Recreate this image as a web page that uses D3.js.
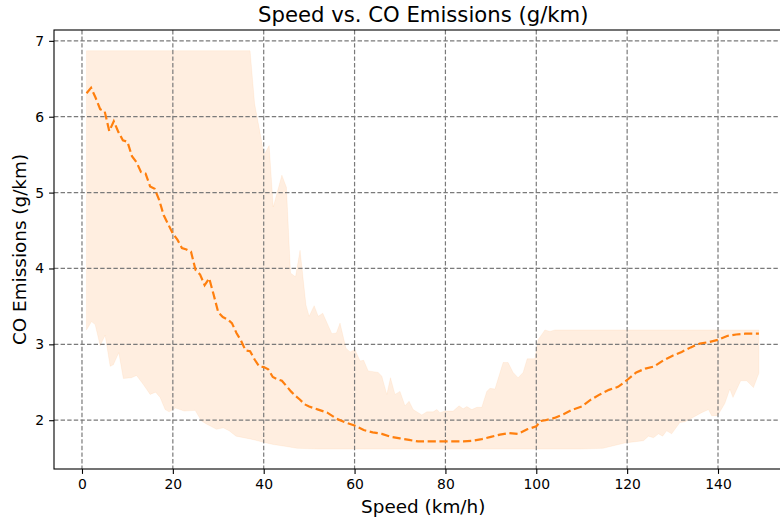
<!DOCTYPE html>
<html>
<head>
<meta charset="utf-8">
<script src="https://cdn.jsdelivr.net/npm/d3@7"></script>
<style>
  body { margin: 0; background: white; }
  svg { font-family: "DejaVu Sans", sans-serif; }
</style>
</head>
<body>
<div id="chart"></div>
<script>
var W = 780, H = 520
var MARGIN = {TOP: 30, LEFT: 54, BOTTOM: 51}

// mean CO emissions by speed
var mean_speed = [1,2,3,4,5,6,7,8,9,10,11,12,13,14,15,16,17,18,19,20,21,22,23,24,25,26,27,28,29,30,
  31,32,33,34,35,36,37,38,39,40,41,42,43,44,45,46,47,48,49,50,52,54,56,58,60,62,64,66,68,70,
  72,74,76,78,80,82,84,86,88,90,92,94,96,98,100,101,102,104,106,108,110,112,114,116,118,120,
  122,124,126,128,130,132,134,136,138,140,142,144,146,148,149]
var mean_co = [6.31,6.38,6.25,6.10,6.07,5.81,5.94,5.80,5.69,5.67,5.48,5.40,5.27,5.25,5.08,5.05,4.90,4.70,4.58,4.46,
  4.38,4.27,4.25,4.22,3.98,3.92,3.78,3.87,3.65,3.42,3.36,3.33,3.28,3.15,3.05,2.92,2.91,2.80,2.71,2.70,
  2.67,2.57,2.54,2.52,2.45,2.38,2.32,2.27,2.21,2.18,2.14,2.10,2.02,1.97,1.93,1.87,1.84,1.82,1.78,1.76,
  1.74,1.72,1.72,1.72,1.72,1.72,1.72,1.73,1.75,1.78,1.81,1.83,1.82,1.88,1.92,1.99,2.00,2.03,2.08,2.14,
  2.18,2.27,2.34,2.40,2.44,2.53,2.63,2.68,2.71,2.79,2.85,2.90,2.96,3.01,3.03,3.06,3.11,3.13,3.14,3.14,3.14]

// upper edge of the shaded range
var upper_speed = [1,37,38,39.5,40,41.2,42.1,44,45,45.9,47,48,49.3,50,51.1,52,53,55,56,56.8,
  58.1,59,60.1,61.2,62,63,65.2,66,67.1,67.9,68.9,70,71.1,72,72.9,74.8,75.9,77.3,78.1,78.8,
  79.9,81.7,83,83.9,84.7,85.8,86.9,88,89.1,89.8,90.9,92.7,93.8,94.9,96,97.1,98,99.7,100.4,
  101.9,103,104.1,149]
var upper_co = [6.87,6.87,6.17,5.69,5.49,5.62,4.81,5.23,5.07,3.94,3.89,4.24,3.52,3.37,3.51,3.37,3.41,3.14,3.15,3.28,
  2.95,2.90,2.93,2.78,2.79,2.65,2.63,2.58,2.34,2.56,2.34,2.38,2.19,2.25,2.14,2.07,2.11,2.11,2.14,2.10,
  2.12,2.12,2.19,2.15,2.18,2.14,2.17,2.17,2.38,2.42,2.41,2.76,2.76,2.63,2.56,2.63,2.81,2.81,3.06,
  3.19,3.17,3.19,3.19]

// lower edge of the shaded range
var lower_speed = [1,2.1,2.9,4,5.1,6.2,6.9,8.1,9.1,10.9,12,13.5,15,16.2,17.2,18.3,19.2,20.6,22.5,24.9,
  26.3,27.4,29.6,31.1,32.4,33.9,37.3,39.9,42.1,44.3,47.3,52,109.6,114.7,119.5,123.6,124.7,125.8,126.9,127.8,
  128.7,129.8,131.6,132.7,134.6,136.4,137.9,138.6,139.9,141.5,142.6,143.3,145,146.3,147.8,149]
var lower_co = [3.19,3.30,3.26,2.98,3.12,2.71,2.73,2.89,2.55,2.56,2.59,2.47,2.34,2.37,2.30,2.14,2.11,2.16,2.12,2.13,
  1.99,1.95,1.88,1.90,1.86,1.79,1.75,1.71,1.68,1.66,1.63,1.62,1.62,1.63,1.70,1.73,1.79,1.77,1.82,1.79,
  1.86,1.82,1.97,1.98,2.04,2.10,2.14,2.06,2.06,2.22,2.41,2.30,2.52,2.52,2.43,2.62]

var x_ticks = [0,20,40,60,80,100,120,140]
var y_ticks = [2,3,4,5,6,7]

var svg = d3.select("#chart").append("svg")
  .attr("width", W)
  .attr("height", H)

var x = d3.scaleLinear()
  .domain([-6.16, 156.4])
  .range([MARGIN.LEFT, MARGIN.LEFT + 162.56 * 4.543])

var y = d3.scaleLinear()
  .domain([1.357, 7.143])
  .range([H - MARGIN.BOTTOM, MARGIN.TOP])

var plot_right = x.range()[1]
var plot_bottom = y.range()[0]

// shaded band: upper edge forward, lower edge backward
var band_pts = upper_speed.map(function(s, i) { return [s, upper_co[i]] })
  .concat(lower_speed.map(function(s, i) { return [s, lower_co[i]] }).reverse())

var band_line = d3.line()
  .x(function(d) { return x(d[0]) })
  .y(function(d) { return y(d[1]) })

svg.append("path")
  .attr("d", band_line(band_pts) + "Z")
  .attr("fill", "#ff7f0e")
  .attr("fill-opacity", 0.13)
  .attr("stroke", "#ff7f0e")
  .attr("stroke-opacity", 0.07)
  .attr("stroke-width", 1)

// grid
var GRID_DASH = "4.4,2.2"
svg.append("g")
  .selectAll("line")
  .data(x_ticks)
  .join("line")
  .attr("x1", function(d) { return x(d) })
  .attr("x2", function(d) { return x(d) })
  .attr("y1", MARGIN.TOP)
  .attr("y2", plot_bottom)
  .attr("stroke", "#7a7a7a")
  .attr("stroke-width", 1.2)
  .attr("stroke-dasharray", GRID_DASH)

svg.append("g")
  .selectAll("line")
  .data(y_ticks)
  .join("line")
  .attr("x1", MARGIN.LEFT)
  .attr("x2", plot_right)
  .attr("y1", function(d) { return y(d) })
  .attr("y2", function(d) { return y(d) })
  .attr("stroke", "#7a7a7a")
  .attr("stroke-width", 1.2)
  .attr("stroke-dasharray", GRID_DASH)

// mean line
var mean_pts = mean_speed.map(function(s, i) { return [s, mean_co[i]] })
svg.append("path")
  .attr("d", band_line(mean_pts))
  .attr("fill", "none")
  .attr("stroke", "#ff7f0e")
  .attr("stroke-width", 2.2)
  .attr("stroke-dasharray", "8.2,3.6")

// axes
svg.append("g")
  .attr("transform", "translate(0," + plot_bottom + ")")
  .call(d3.axisBottom(x).tickValues(x_ticks).tickSize(4.9).tickPadding(4.9).tickFormat(d3.format("d")))
  .call(function(g) { g.select(".domain").remove() })

svg.append("g")
  .attr("transform", "translate(" + MARGIN.LEFT + ",0)")
  .call(d3.axisLeft(y).tickValues(y_ticks).tickSize(4.9).tickPadding(4.9).tickFormat(d3.format("d")))
  .call(function(g) { g.select(".domain").remove() })

svg.selectAll(".tick text").attr("font-size", 13.9).attr("font-family", "DejaVu Sans").attr("fill", "black")
svg.selectAll(".tick line").attr("stroke", "black").attr("stroke-width", 1.1)

// spines
svg.append("rect")
  .attr("x", MARGIN.LEFT)
  .attr("y", MARGIN.TOP)
  .attr("width", plot_right - MARGIN.LEFT)
  .attr("height", plot_bottom - MARGIN.TOP)
  .attr("fill", "none")
  .attr("stroke", "black")
  .attr("stroke-width", 1.1)

// titles
svg.append("text")
  .attr("x", (MARGIN.LEFT + plot_right) / 2)
  .attr("y", 22)
  .attr("text-anchor", "middle")
  .attr("font-size", 21.2)
  .text("Speed vs. CO Emissions (g/km)")

svg.append("text")
  .attr("x", (MARGIN.LEFT + plot_right) / 2)
  .attr("y", 513)
  .attr("text-anchor", "middle")
  .attr("font-size", 18.4)
  .text("Speed (km/h)")

svg.append("text")
  .attr("transform", "translate(26," + (MARGIN.TOP + plot_bottom) / 2 + ") rotate(-90)")
  .attr("text-anchor", "middle")
  .attr("font-size", 18.4)
  .text("CO Emissions (g/km)")
</script>
</body>
</html>
